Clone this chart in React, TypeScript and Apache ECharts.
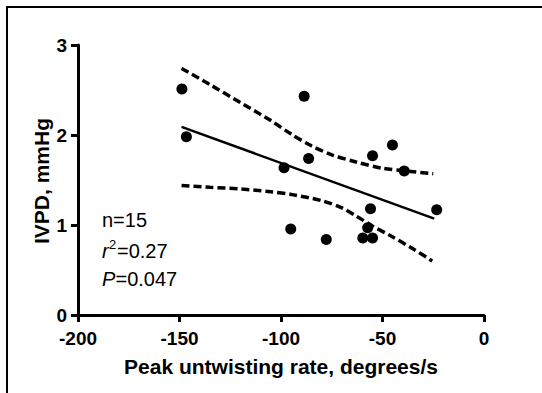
import React, { useEffect, useRef } from "react";
import * as echarts from "echarts";

const xTicks = [-200, -150, -100, -50, 0];
const yTicks = [0, 1, 2, 3];

const pointsX = [-148.8, -146.6, -88.6, -98.5, -86.4, -95.2, -77.7, -59.7, -54.9, -57.3, -55.9, -54.9, -45.1, -39.3, -23.3];
const pointsY = [2.51, 1.98, 2.43, 1.635, 1.74, 0.955, 0.84, 0.855, 0.855, 0.97, 1.18, 1.77, 1.89, 1.6, 1.17];

const fitX = [-149, -24.5];
const fitY = [2.09, 1.07];

const upperX = [-149, -135, -120, -105, -95, -85, -75, -63, -50, -38, -25];
const upperY = [2.74, 2.56, 2.36, 2.16, 2.01, 1.88, 1.78, 1.7, 1.63, 1.6, 1.57];

const lowerX = [-149, -135, -120, -105, -95, -80, -70, -63, -55, -46, -36, -25.5];
const lowerY = [1.44, 1.42, 1.4, 1.37, 1.34, 1.27, 1.19, 1.1, 0.99, 0.88, 0.75, 0.6];

const xTitle = "Peak untwisting rate, degrees/s";
const yTitle = "IVPD, mmHg";
const nText = "n=15";
const rText = "=0.27";
const pText = "=0.047";

const FONT = "Liberation Sans, Arial, sans-serif";

const zip = (a: number[], b: number[]) => a.map((v, i) => [v, b[i]]);

export default function App() {
  const ref = useRef<HTMLDivElement>(null);
  useEffect(() => {
    document.body.style.margin = "0";
    const chart = echarts.init(ref.current!, null, { renderer: "svg" });
    const axisCommon = {
      axisLine: { show: true, onZero: false, lineStyle: { color: "#000", width: 3 } },
      axisTick: { show: true, length: 7, lineStyle: { color: "#000", width: 3 } },
      splitLine: { show: false },
    };
    chart.setOption({
      animation: false,
      backgroundColor: "#fff",
      grid: { left: 78, right: 58, top: 45, bottom: 78 },
      xAxis: {
        type: "value",
        min: -200,
        max: 0,
        interval: 50,
        ...axisCommon,
        axisLabel: {
          color: "#000",
          fontFamily: FONT,
          fontWeight: "bold",
          fontSize: 19,
          margin: 14,
          formatter: (v: number) => (xTicks.includes(v) ? String(v) : ""),
        },
      },
      yAxis: {
        type: "value",
        min: 0,
        max: 3,
        interval: 1,
        ...axisCommon,
        axisLabel: {
          color: "#000",
          fontFamily: FONT,
          fontWeight: "bold",
          fontSize: 19,
          margin: 11,
          formatter: (v: number) => (yTicks.includes(v) ? String(v) : ""),
        },
      },
      series: [
        {
          type: "line",
          data: zip(upperX, upperY),
          showSymbol: false,
          smooth: 0.3,
          lineStyle: { color: "#000", width: 3.5, type: [8, 4] },
        },
        {
          type: "line",
          data: zip(lowerX, lowerY),
          showSymbol: false,
          smooth: 0.3,
          lineStyle: { color: "#000", width: 3.5, type: [8, 4] },
        },
        {
          type: "line",
          data: zip(fitX, fitY),
          showSymbol: false,
          lineStyle: { color: "#000", width: 2.5 },
        },
        {
          type: "scatter",
          data: zip(pointsX, pointsY),
          symbol: "circle",
          symbolSize: 11,
          itemStyle: { color: "#000", opacity: 1 },
        },
      ],
      graphic: [
        {
          type: "rect",
          shape: { x: 7, y: 7, width: 600, height: 500 },
          style: { fill: "none", stroke: "#000", lineWidth: 2 },
          silent: true,
        },
        {
          type: "text",
          x: 281,
          y: 366,
          style: {
            text: xTitle,
            font: `bold 21px ${FONT}`,
            fill: "#000",
            align: "center",
            verticalAlign: "middle",
          },
        },
        {
          type: "text",
          x: 41,
          y: 181,
          rotation: Math.PI / 2,
          style: {
            text: yTitle,
            font: `bold 21px ${FONT}`,
            fill: "#000",
            align: "center",
            verticalAlign: "middle",
          },
        },
        {
          type: "text",
          x: 102,
          y: 219.5,
          style: { text: nText, font: `20px ${FONT}`, fill: "#000", align: "left", verticalAlign: "middle" },
        },
        {
          type: "text",
          x: 102,
          y: 251,
          style: { text: "r", font: `italic 20px ${FONT}`, fill: "#000", align: "left", verticalAlign: "middle" },
        },
        {
          type: "text",
          x: 109,
          y: 244,
          style: { text: "2", font: `13px ${FONT}`, fill: "#000", align: "left", verticalAlign: "middle" },
        },
        {
          type: "text",
          x: 117,
          y: 251,
          style: { text: rText, font: `20px ${FONT}`, fill: "#000", align: "left", verticalAlign: "middle" },
        },
        {
          type: "text",
          x: 102,
          y: 278.5,
          style: { text: "P", font: `italic 20px ${FONT}`, fill: "#000", align: "left", verticalAlign: "middle" },
        },
        {
          type: "text",
          x: 115.5,
          y: 278.5,
          style: { text: pText, font: `20px ${FONT}`, fill: "#000", align: "left", verticalAlign: "middle" },
        },
      ],
    });
    return () => chart.dispose();
  }, []);
  return <div ref={ref} style={{ position: "absolute", left: 0, top: 0, width: 542, height: 393 }} />;
}
